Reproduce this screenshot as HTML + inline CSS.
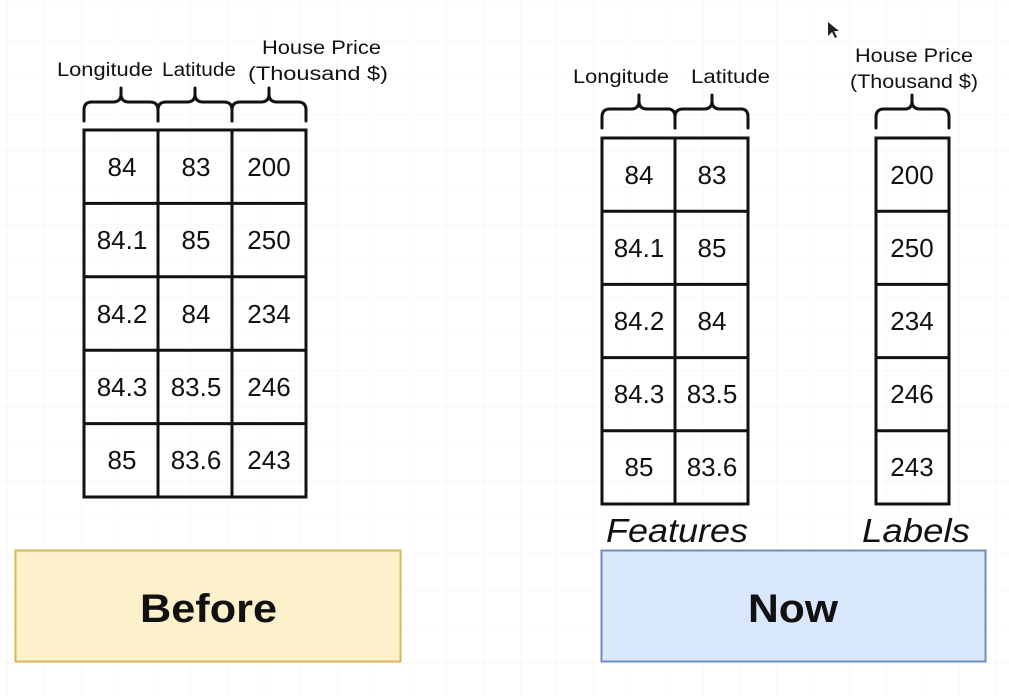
<!DOCTYPE html>
<html><head><meta charset="utf-8"><style>
html,body{margin:0;padding:0;background:#fff}
svg{display:block}
text{font-family:"Liberation Sans",Arial,sans-serif;fill:#111}
</style></head><body>
<svg width="1009" height="696" viewBox="0 0 1009 696" xmlns="http://www.w3.org/2000/svg">
<defs>
<pattern id="g" width="36.6" height="36.6" patternUnits="userSpaceOnUse" x="8" y="5">
<path d="M36.6 0V36.6M0 36.6H36.6" stroke="#f3f3f3" stroke-width="1" fill="none"/>
</pattern>
</defs>
<rect width="1009" height="696" fill="url(#g)"/>
<g fill="none" stroke="#111" stroke-width="3" stroke-linecap="round">
<path d="M84 121V110Q84 102 92 102H113Q121 102 121 94V88M121 94Q121 102 129 102H150Q158 102 158 110V121"/>
<path d="M158 121V110Q158 102 166 102H187Q195 102 195 94V88M195 94Q195 102 203 102H224Q232 102 232 110V121"/>
<path d="M232 121V110Q232 102 240 102H261Q269 102 269 94V88M269 94Q269 102 277 102H298Q306 102 306 110V121"/>
<path d="M602 128V117Q602 109 610 109H631Q639 109 639 101V95M639 101Q639 109 647 109H668Q675 109 675 117V128"/>
<path d="M675 128V117Q675 109 683 109H704Q712 109 712 101V95M712 101Q712 109 720 109H741Q748 109 748 117V128"/>
<path d="M876 128V117Q876 109 884 109H905Q912 109 912 101V95M912 101Q912 109 920 109H941Q949 109 949 117V128"/>
</g>
<g fill="none" stroke="#111" stroke-width="3">
<rect x="84" y="130" width="222" height="367"/>
<path d="M158 130V497M232 130V497M84 203.4H306M84 276.8H306M84 350.2H306M84 423.6H306"/>
<rect x="602" y="138" width="146" height="366"/>
<path d="M675 138V504M602 211.2H748M602 284.4H748M602 357.6H748M602 430.8H748"/>
<rect x="876" y="138" width="73" height="366"/>
<path d="M876 211.2H949M876 284.4H949M876 357.6H949M876 430.8H949"/>
</g>
<g font-size="19" lengthAdjust="spacingAndGlyphs">
<text x="57" y="76" textLength="96" lengthAdjust="spacingAndGlyphs">Longitude</text>
<text x="162" y="76" textLength="74" lengthAdjust="spacingAndGlyphs">Latitude</text>
<text x="262" y="54" textLength="119" lengthAdjust="spacingAndGlyphs">House Price</text>
<text x="248" y="80" textLength="140" lengthAdjust="spacingAndGlyphs">(Thousand $)</text>
<text x="573" y="83" textLength="96" lengthAdjust="spacingAndGlyphs">Longitude</text>
<text x="691" y="83" textLength="79" lengthAdjust="spacingAndGlyphs">Latitude</text>
<text x="855" y="62" textLength="118" lengthAdjust="spacingAndGlyphs">House Price</text>
<text x="850" y="88" textLength="128" lengthAdjust="spacingAndGlyphs">(Thousand $)</text>
</g>
<g font-size="26" text-anchor="middle">
<text x="122" y="176">84</text><text x="196" y="176">83</text><text x="269" y="176">200</text>
<text x="122" y="249">84.1</text><text x="196" y="249">85</text><text x="269" y="249">250</text>
<text x="122" y="323">84.2</text><text x="196" y="323">84</text><text x="269" y="323">234</text>
<text x="122" y="396">84.3</text><text x="196" y="396">83.5</text><text x="269" y="396">246</text>
<text x="122" y="469">85</text><text x="196" y="469">83.6</text><text x="269" y="469">243</text>
<text x="639" y="184">84</text><text x="712" y="184">83</text><text x="912" y="184">200</text>
<text x="639" y="257">84.1</text><text x="712" y="257">85</text><text x="912" y="257">250</text>
<text x="639" y="330">84.2</text><text x="712" y="330">84</text><text x="912" y="330">234</text>
<text x="639" y="403">84.3</text><text x="712" y="403">83.5</text><text x="912" y="403">246</text>
<text x="639" y="476">85</text><text x="712" y="476">83.6</text><text x="912" y="476">243</text>
</g>
<g font-size="33" font-style="italic">
<text x="606" y="542" textLength="142" lengthAdjust="spacingAndGlyphs">Features</text>
<text x="862" y="542" textLength="108" lengthAdjust="spacingAndGlyphs">Labels</text>
</g>
<rect x="15.5" y="550.5" width="385" height="111" fill="#fdf1cc" stroke="#d6b656" stroke-width="2"/>
<rect x="601.5" y="550.5" width="384" height="111" fill="#dae8fc" stroke="#6c8ebf" stroke-width="2"/>
<g font-size="40" font-weight="bold">
<text x="140" y="622" textLength="137" lengthAdjust="spacingAndGlyphs">Before</text>
<text x="748" y="622" textLength="90" lengthAdjust="spacingAndGlyphs">Now</text>
</g>
<path d="M828 22L828 36L832 32L835 38L837 37L834 31L839 31Z" fill="#222"/>
</svg>
</body></html>
